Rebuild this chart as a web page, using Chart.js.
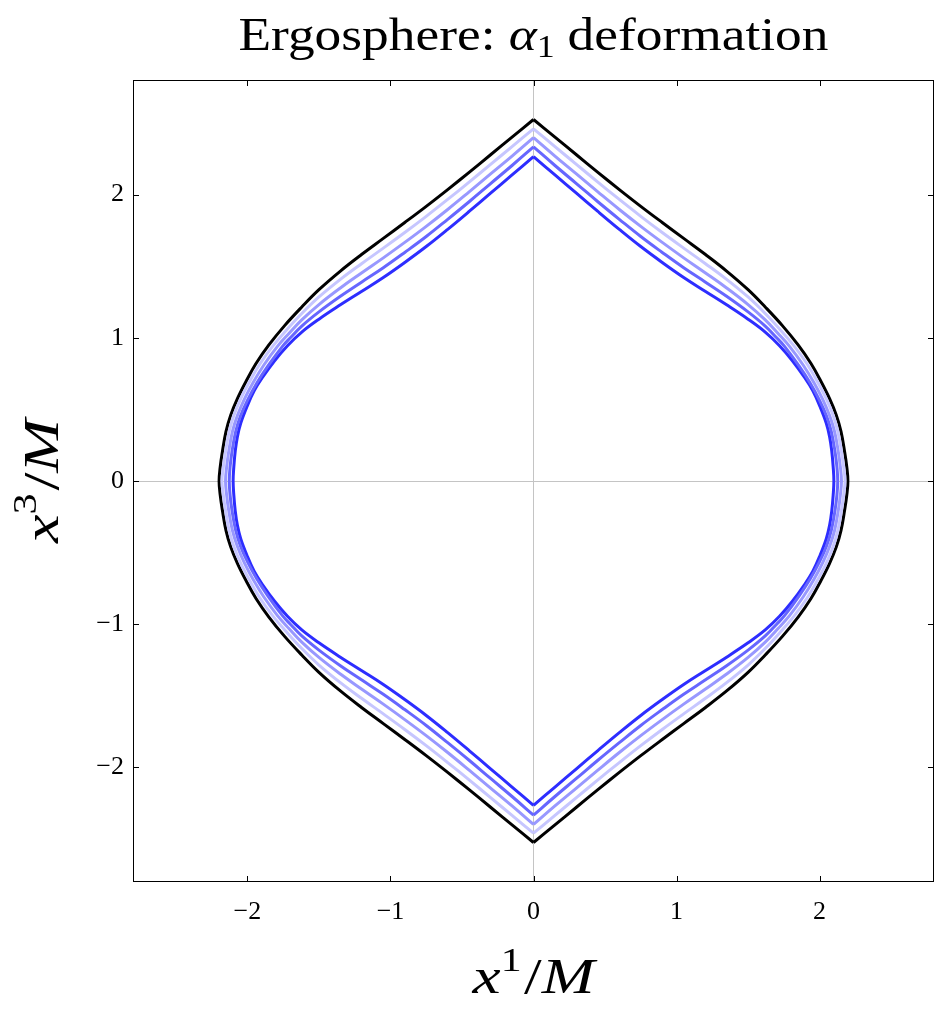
<!DOCTYPE html>
<html><head><meta charset="utf-8">
<script src="https://cdn.jsdelivr.net/npm/chart.js@4"></script>
<style>html,body{margin:0;padding:0;background:#fff;}</style>
</head><body>
<canvas id="c" width="938" height="1017" style="width:938px;height:1017px;display:block"></canvas>
<script>
// ---- data: upper-right quadrant of each ergosphere contour (pole tip -> equator), units of M ----
const tickValues = [-2, -1, 0, 1, 2];
const axisMin = -2.8, axisMax = 2.8;

const blackX = [0, 0.15, 0.30, 0.45, 0.60, 0.75, 0.90, 1.05, 1.20, 1.35, 1.50, 1.62, 1.74, 1.85, 1.94, 2.01, 2.07, 2.117, 2.15, 2.175, 2.19, 2.198];
const blackY = [2.524, 2.401, 2.278, 2.155, 2.035, 1.918, 1.805, 1.694, 1.583, 1.466, 1.336, 1.215, 1.085, 0.95, 0.82, 0.695, 0.575, 0.46, 0.345, 0.205, 0.10, 0];

const paleX = [0, 0.15, 0.30, 0.45, 0.60, 0.75, 0.90, 1.05, 1.20, 1.35, 1.50, 1.62, 1.72, 1.82, 1.914, 1.987, 2.048, 2.095, 2.128, 2.153, 2.168, 2.178];
const paleY = [2.459, 2.335, 2.211, 2.087, 1.966, 1.848, 1.735, 1.626, 1.519, 1.408, 1.285, 1.170, 1.062, 0.945, 0.815, 0.69, 0.572, 0.458, 0.345, 0.205, 0.10, 0];

const lightX = [0, 0.15, 0.30, 0.45, 0.60, 0.75, 0.90, 1.05, 1.20, 1.35, 1.50, 1.62, 1.71, 1.79, 1.885, 1.96, 2.022, 2.07, 2.105, 2.131, 2.145, 2.153];
const lightY = [2.398, 2.269, 2.144, 2.019, 1.896, 1.778, 1.666, 1.558, 1.454, 1.348, 1.232, 1.125, 1.03, 0.94, 0.81, 0.688, 0.57, 0.457, 0.345, 0.205, 0.10, 0];

const mediumX = [0, 0.15, 0.30, 0.45, 0.60, 0.75, 0.90, 1.05, 1.20, 1.35, 1.50, 1.62, 1.70, 1.755, 1.855, 1.935, 1.999, 2.048, 2.082, 2.108, 2.121, 2.127];
const mediumY = [2.333, 2.203, 2.077, 1.950, 1.827, 1.707, 1.596, 1.489, 1.390, 1.290, 1.181, 1.082, 1.0, 0.94, 0.805, 0.683, 0.565, 0.455, 0.345, 0.205, 0.10, 0];

const blueX = [0, 0.15, 0.30, 0.45, 0.60, 0.75, 0.90, 1.05, 1.20, 1.35, 1.50, 1.62, 1.72, 1.81, 1.89, 1.953, 2.005, 2.047, 2.07, 2.085, 2.095, 2.10];
const blueY = [2.265, 2.137, 2.010, 1.882, 1.757, 1.637, 1.526, 1.421, 1.325, 1.230, 1.130, 1.040, 0.945, 0.840, 0.73, 0.630, 0.515, 0.403, 0.31, 0.21, 0.10, 0];

const curves = [
  { name: 'pale',   xs: paleX,   ys: paleY,   color: 'rgb(198,198,255)' },
  { name: 'light',  xs: lightX,  ys: lightY,  color: 'rgb(152,152,255)' },
  { name: 'medium', xs: mediumX, ys: mediumY, color: 'rgb(102,102,255)' },
  { name: 'blue',   xs: blueX,   ys: blueY,   color: 'rgb(45,45,255)' },
  { name: 'black',  xs: blackX,  ys: blackY,  color: '#000000' }
];

// half contour: north tip -> equator -> south tip on one side (sx = +1 right, -1 left)
function halfContour(xs, ys, sx) {
  const pts = [];
  for (let i = 0; i < xs.length; i++) pts.push({ x: sx * xs[i], y: ys[i] });
  for (let i = xs.length - 2; i >= 0; i--) pts.push({ x: sx * xs[i], y: -ys[i] });
  return pts;
}

const datasets = [];
curves.forEach(c => {
  [1, -1].forEach(sx => {
    datasets.push({
      label: c.name,
      data: halfContour(c.xs, c.ys, sx),
      showLine: true,
      borderColor: c.color,
      borderWidth: 3,
      pointRadius: 0,
      fill: false,
      tension: 0.4,
      borderJoinStyle: 'miter'
    });
  });
});

const SERIF = "'Liberation Serif', 'DejaVu Serif', serif";
const fmt = v => (v < 0 ? '\u2212' + Math.abs(v) : String(v));

// draw mixed-style text centered at (x, y baseline), horizontally stretched to targetW
function drawRich(ctx, parts, x, y, targetW) {
  let w = 0;
  parts.forEach(p => { ctx.font = p.font; w += ctx.measureText(p.t).width + (p.gap || 0); });
  const sc = targetW ? targetW / w : 1;
  ctx.save();
  ctx.translate(x - (w * sc) / 2, y);
  ctx.scale(sc, 1);
  ctx.textBaseline = 'alphabetic';
  ctx.textAlign = 'left';
  let cx = 0;
  parts.forEach(p => {
    ctx.font = p.font;
    ctx.fillText(p.t, cx, p.dy || 0);
    cx += ctx.measureText(p.t).width + (p.gap || 0);
  });
  ctx.restore();
}

const decor = {
  id: 'decor',
  afterDraw(chart) {
    const ctx = chart.ctx;
    const a = chart.chartArea;
    const xs = chart.scales.x, ys = chart.scales.y;
    ctx.save();
    ctx.strokeStyle = '#000';
    ctx.lineWidth = 1;
    ctx.strokeRect(Math.round(a.left) + 0.5, Math.round(a.top) + 0.5,
                   Math.round(a.right - a.left) - 1, Math.round(a.bottom - a.top) - 1);
    ctx.beginPath();
    tickValues.forEach(v => {
      const px = Math.round(xs.getPixelForValue(v)) + 0.5;
      ctx.moveTo(px, a.bottom); ctx.lineTo(px, a.bottom - 6);
      ctx.moveTo(px, a.top); ctx.lineTo(px, a.top + 6);
      const py = Math.round(ys.getPixelForValue(v)) + 0.5;
      ctx.moveTo(a.left, py); ctx.lineTo(a.left + 6, py);
      ctx.moveTo(a.right, py); ctx.lineTo(a.right - 6, py);
    });
    ctx.stroke();

    ctx.fillStyle = '#000';
    const cxMid = (a.left + a.right) / 2;
    drawRich(ctx, [
      { t: 'Ergosphere: ', font: '46px ' + SERIF },
      { t: '\u03B1', font: 'italic 46px ' + SERIF },
      { t: '1', font: '31px ' + SERIF, dy: 7, gap: 11 },
      { t: 'deformation', font: '46px ' + SERIF }
    ], cxMid, 50, 590);

    const axParts = sup => [
      { t: 'x', font: 'italic 50px ' + SERIF },
      { t: sup, font: '33px ' + SERIF, dy: -22, gap: 2 },
      { t: '/', font: '50px ' + SERIF },
      { t: 'M', font: 'italic 50px ' + SERIF }
    ];
    drawRich(ctx, axParts('1'), cxMid, 993, 122);

    ctx.translate(58, (a.top + a.bottom) / 2);
    ctx.rotate(-Math.PI / 2);
    drawRich(ctx, axParts('3'), 0, 0, 124);
    ctx.restore();
  }
};

const gridColor = c => (c.tick && c.tick.value === 0 ? '#c4c4c4' : 'rgba(0,0,0,0)');

new Chart(document.getElementById('c'), {
  type: 'scatter',
  data: { datasets },
  options: {
    responsive: false,
    animation: false,
    devicePixelRatio: 1,
    layout: { padding: { top: 80, right: 4, left: 0, bottom: 0 } },
    plugins: { legend: { display: false }, tooltip: { enabled: false }, title: { display: false } },
    scales: {
      x: {
        type: 'linear', position: 'bottom', min: axisMin, max: axisMax,
        afterBuildTicks: s => { s.ticks = tickValues.map(v => ({ value: v })); },
        afterFit: s => { s.height = 135; },
        grid: { color: gridColor, lineWidth: 1, drawTicks: false },
        border: { display: false },
        ticks: { color: '#000', padding: 15, font: { family: SERIF, size: 26 }, callback: v => fmt(v), maxRotation: 0 }
      },
      y: {
        type: 'linear', position: 'left', min: axisMin, max: axisMax,
        afterBuildTicks: s => { s.ticks = tickValues.map(v => ({ value: v })); },
        afterFit: s => { s.width = 133; },
        grid: { color: gridColor, lineWidth: 1, drawTicks: false },
        border: { display: false },
        ticks: { color: '#000', padding: 9, font: { family: SERIF, size: 26 }, callback: v => fmt(v) }
      }
    }
  },
  plugins: [decor]
});
</script>
</body></html>
